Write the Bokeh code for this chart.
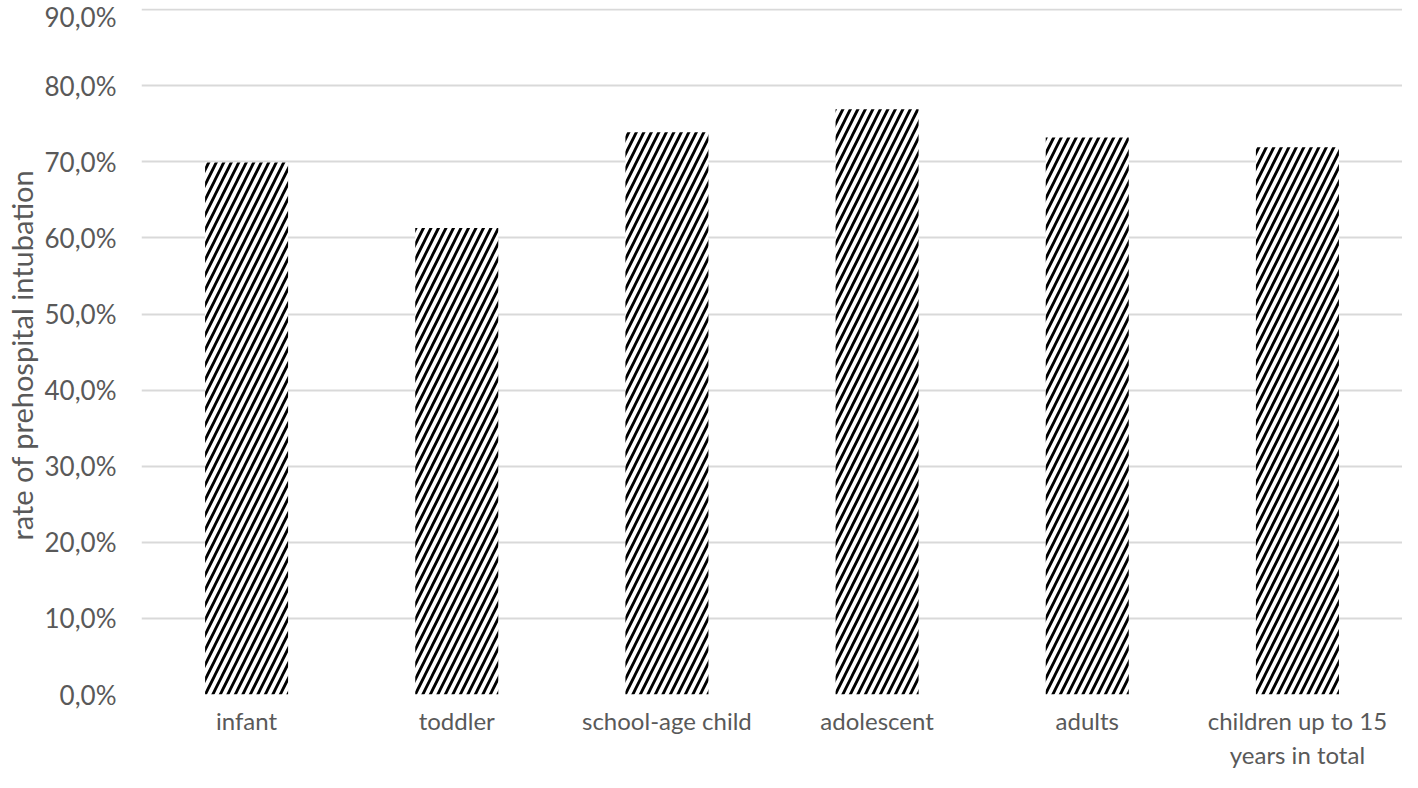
from bokeh.plotting import figure
from bokeh.models import ColumnDataSource, FixedTicker, Range1d
from bokeh.embed import file_html
from bokeh.resources import INLINE

categories = ["infant", "toddler", "school-age child", "adolescent", "adults", "children up to 15\nyears in total"]
rates = [69.9, 61.3, 73.9, 76.9, 73.2, 71.9]
y_ticks = [0, 10, 20, 30, 40, 50, 60, 70, 80, 90]
y_tick_labels = ["0,0%", "10,0%", "20,0%", "30,0%", "40,0%", "50,0%", "60,0%", "70,0%", "80,0%", "90,0%"]

src = ColumnDataSource(dict(cat=categories, rate=rates))

p = figure(x_range=categories, width=1402, height=772, output_backend="svg",
           toolbar_location=None, min_border_top=8, min_border_bottom=5,
           min_border_left=5, min_border_right=0)
p.y_range = Range1d(0, 90.15)
p.vbar(x="cat", top="rate", width=0.395, source=src, fill_color="white",
       line_color=None, hatch_pattern="/", hatch_color="black",
       hatch_scale=15, hatch_weight=2.8)

p.outline_line_color = None
p.xgrid.grid_line_color = None
p.ygrid.grid_line_color = "#d9d9d9"
p.ygrid.grid_line_width = 2
p.yaxis.ticker = FixedTicker(ticks=y_ticks)
p.yaxis.major_label_overrides = {t: l for t, l in zip(y_ticks, y_tick_labels)}
for ax in (p.xaxis, p.yaxis):
    ax.axis_line_color = None
    ax.major_tick_line_color = None
    ax.minor_tick_line_color = None
    ax.major_label_text_font = "Lato"
    ax.major_label_text_font_size = "26px"
    ax.major_label_text_color = "#595959"
p.xaxis.major_label_text_font_size = "24px"
p.yaxis.major_label_standoff = 19
p.xaxis.major_label_standoff = 5
p.yaxis.axis_label = "rate of  prehospital intubation"
p.yaxis.axis_label_text_font = "Lato"
p.yaxis.axis_label_text_font_size = "29px"
p.yaxis.axis_label_text_font_style = "normal"
p.yaxis.axis_label_text_color = "#595959"
p.yaxis.axis_label_standoff = 3
p.background_fill_color = "white"

open("out.html", "w").write(file_html(p, INLINE))
